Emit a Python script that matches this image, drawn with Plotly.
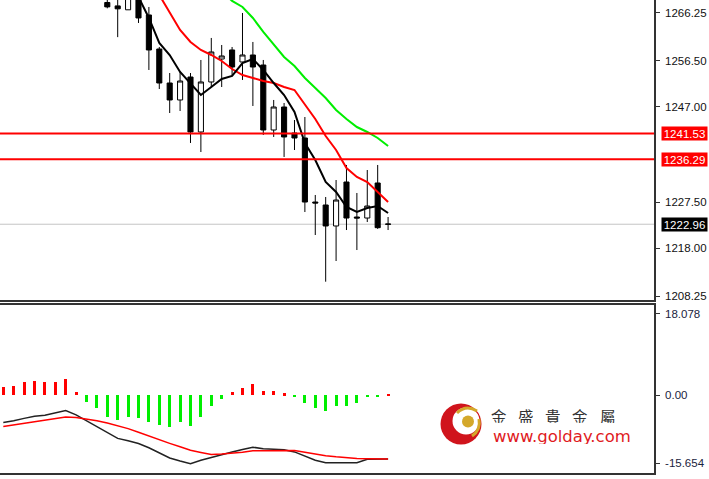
import plotly.graph_objects as go

# ---------------- data ----------------
candle_idx = list(range(10, 38))
opens = [1268.4, 1267.7, 1266.9, 1271.0, 1265.84, 1258.87, 1251.9, 1248.42, 1253.13, 1241.86,
         1252.11, 1256.82, 1258.67, 1256.21, 1257.64, 1255.59, 1242.27, 1246.98, 1241.65, 1240.63,
         1227.51, 1226.9, 1222.6, 1231.61, 1224.44, 1224.23, 1231.41, 1223.0]
highs = [1269.5, 1270.0, 1270.0, 1272.0, 1267.48, 1259.28, 1253.95, 1254.16, 1253.95, 1256.62,
         1261.13, 1259.69, 1259.28, 1266.25, 1260.31, 1256.62, 1248.42, 1247.8, 1244.32, 1244.93,
         1228.95, 1228.54, 1232.02, 1235.1, 1229.36, 1234.07, 1235.1, 1224.44]
lows = [1267.2, 1261.3, 1266.9, 1264.2, 1254.57, 1250.67, 1245.75, 1246.16, 1239.61, 1237.76,
        1251.08, 1251.08, 1253.54, 1252.52, 1247.19, 1241.25, 1240.84, 1236.74, 1238.17, 1225.46,
        1220.75, 1211.18, 1215.42, 1221.77, 1217.67, 1223.41, 1222.0, 1221.77]
closes = [1267.5, 1267.1, 1269.3, 1265.23, 1258.67, 1251.9, 1248.42, 1252.31, 1241.86, 1252.11,
          1258.26, 1257.44, 1255.18, 1257.64, 1255.18, 1242.27, 1246.98, 1240.84, 1240.63, 1227.51,
          1227.31, 1222.6, 1227.92, 1224.23, 1224.23, 1226.69, 1222.25, 1222.96]

ma_fast_idx = list(range(13, 38))
ma_fast = [1269.53, 1265.23, 1260.1, 1257.64, 1254.16, 1251.9, 1249.44, 1251.08, 1252.72, 1253.34,
           1256.0, 1256.82, 1254.57, 1251.9, 1249.44, 1245.96, 1239.61, 1236.12, 1231.61, 1229.56,
           1226.49, 1225.46, 1226.28, 1226.69, 1225.26]
ma_mid_idx = list(range(15, 38))
ma_mid = [1269.94, 1266.45, 1262.77, 1260.31, 1258.67, 1257.64, 1256.41, 1254.77, 1253.54, 1252.93,
          1252.31, 1251.9, 1251.08, 1250.46, 1247.39, 1244.52, 1241.04, 1238.17, 1234.48, 1232.64,
          1231.61, 1229.56, 1227.51]
ma_slow_idx = list(range(21, 38))
ma_slow = [1270.8, 1268.71, 1267.48, 1265.23, 1262.36, 1259.69, 1257.23, 1255.38, 1252.93, 1250.88,
           1248.83, 1246.37, 1244.52, 1242.88, 1241.86, 1240.63, 1238.99]

macd_idx = list(range(0, 38))
macd_hist = [1.66, 1.8, 2.6, 2.85, 2.6, 2.6, 3.2, 0.53, -1.33, -2.66, -4.33, -5.0, -4.33, -4.66,
             -5.32, -5.99, -6.32, -5.32, -6.19, -4.33, -2.13, -0.87, 0.67, 1.46, 2.13, 0.8, 0.8,
             0.33, -0.2, -1.66, -2.53, -3.13, -2.2, -2.2, -1.66, -0.2, -0.2, 0.3]
macd_main = [-5.5, -5.17, -4.69, -4.25, -4.07, -3.55, -3.13, -3.99, -5.19, -6.39, -7.56, -8.70,
             -9.16, -9.72, -10.58, -11.6, -12.63, -13.25, -13.81, -13.11, -12.51, -11.96, -11.44,
             -10.94, -10.48, -10.76, -10.92, -11.0, -11.42, -12.24, -13.09, -13.59, -13.59, -13.59,
             -13.59, -12.91, -12.85, -12.85]
macd_signal = [-6.33, -6.03, -5.75, -5.45, -5.15, -4.77, -4.41, -4.49, -4.77, -5.15, -5.63, -6.19,
               -6.75, -7.47, -8.24, -9.02, -9.7, -10.4, -11.08, -11.52, -11.92, -11.82, -11.72,
               -11.48, -11.2, -11.16, -11.12, -11.08, -11.12, -11.5, -11.88, -12.18, -12.4, -12.6,
               -12.73, -12.77, -12.81, -12.85]

price_ticks = [1266.25, 1256.50, 1247.00, 1227.50, 1218.00, 1208.25]
price_tick_text = ["1266.25", "1256.50", "1247.00", "1227.50", "1218.00", "1208.25"]
level_lines = [1241.53, 1236.29]
level_text = ["1241.53", "1236.29"]
last_price = 1222.96
last_price_text = "1222.96"
macd_tick_vals = [16.3, 0.0, -13.7]
macd_tick_text = ["18.078", "0.00", "-15.654"]
macd_min, macd_max = -15.654, 18.078
brand_chars = ["金", "盛", "貴", "金", "屬"]
brand_url = "www.golday.com"

# ---------------- geometry ----------------
W, H = 709, 479
ML, MR, MT, MB = 0, 55, 0, 6
PW, PH = W - ML - MR, H - MT - MB   # 654 x 473
X_RANGE = [-0.317, 62.57]
Y_RANGE = [1207.43, 1268.91]


def px(x):
    return x / PW


def py(y):
    return (PH - y) / PH


FONT = "Liberation Sans, Arial, sans-serif"
TICK_SIZE = 11.5

fig = go.Figure()

fig.add_trace(go.Candlestick(
    x=candle_idx, open=opens, high=highs, low=lows, close=closes,
    increasing=dict(line=dict(color="black", width=1), fillcolor="white"),
    decreasing=dict(line=dict(color="black", width=1), fillcolor="black"),
    whiskerwidth=0, showlegend=False, hoverinfo="skip",
    xaxis="x", yaxis="y"))

fig.add_trace(go.Scatter(x=ma_slow_idx, y=ma_slow, mode="lines",
                         line=dict(color="#00ee00", width=2), showlegend=False,
                         xaxis="x", yaxis="y"))
fig.add_trace(go.Scatter(x=ma_mid_idx, y=ma_mid, mode="lines",
                         line=dict(color="#ff0000", width=2), showlegend=False,
                         xaxis="x", yaxis="y"))
fig.add_trace(go.Scatter(x=ma_fast_idx, y=ma_fast, mode="lines",
                         line=dict(color="#000000", width=2), showlegend=False,
                         xaxis="x", yaxis="y"))

bar_colors = ["#ff0000" if v >= 0 else "#00ee00" for v in macd_hist]
fig.add_trace(go.Bar(x=macd_idx, y=macd_hist, width=0.3,
                     marker=dict(color=bar_colors, line=dict(width=0)),
                     showlegend=False, xaxis="x2", yaxis="y2"))
fig.add_trace(go.Scatter(x=macd_idx, y=macd_main, mode="lines",
                         line=dict(color="#222222", width=1.5), showlegend=False,
                         xaxis="x2", yaxis="y2"))
fig.add_trace(go.Scatter(x=macd_idx, y=macd_signal, mode="lines",
                         line=dict(color="#ff0000", width=1.5), showlegend=False,
                         xaxis="x2", yaxis="y2"))

shapes = []
shapes.append(dict(type="line", xref="paper", yref="y", x0=0, x1=1, y0=last_price, y1=last_price,
                   line=dict(color="#c4c4c4", width=1), layer="below"))
for lv in level_lines:
    shapes.append(dict(type="line", xref="paper", yref="y", x0=0, x1=1, y0=lv, y1=lv,
                       line=dict(color="#ff0000", width=2)))

# logo
def circ(cx, cy, r, color):
    return dict(type="circle", xref="paper", yref="paper",
                x0=px(cx - r), x1=px(cx + r), y0=py(cy + r), y1=py(cy - r),
                fillcolor=color, line=dict(width=0), layer="above")

shapes.append(circ(461, 424, 20.5, "#d0141c"))
shapes.append(circ(466, 421, 13.5, "white"))
shapes.append(circ(468, 421.5, 6, "#d4a82a"))
shapes.append(dict(type="path", xref="paper", yref="paper",
                   path=f"M {px(457)},{py(413)} Q {px(466)},{py(404)} {px(477)},{py(411)}",
                   line=dict(color="#d4a82a", width=3)))
shapes.append(dict(type="path", xref="paper", yref="paper",
                   path=f"M {px(479)},{py(419)} Q {px(481)},{py(430)} {px(472)},{py(436)}",
                   line=dict(color="#d4a82a", width=3)))

annotations = []
for lv, t in zip(level_lines, level_text):
    annotations.append(dict(xref="paper", yref="y", x=px(661), y=lv, xanchor="left",
                            yanchor="middle", text=t, showarrow=False, width=45, height=13,
                            bgcolor="#ff0000", borderpad=0,
                            font=dict(family=FONT, size=TICK_SIZE, color="white")))
annotations.append(dict(xref="paper", yref="y", x=px(661), y=last_price, xanchor="left",
                        yanchor="middle", text=last_price_text, showarrow=False, width=45,
                        height=13, bgcolor="#000000", borderpad=0,
                        font=dict(family=FONT, size=TICK_SIZE, color="white")))

for k, ch in enumerate(brand_chars):
    annotations.append(dict(xref="paper", yref="paper", x=px(498.5 + 27.3 * k), y=py(415.5),
                            xanchor="center", yanchor="middle", text=ch, showarrow=False,
                            height=14, borderpad=0,
                            font=dict(family="Noto Sans CJK TC", size=15.5, color="#333333")))
annotations.append(dict(xref="paper", yref="paper", x=px(562), y=py(436.5), xanchor="center",
                        yanchor="middle", text=brand_url, showarrow=False, height=15,
                        borderpad=0,
                        font=dict(family="DejaVu Sans, Verdana, sans-serif", size=16.5,
                                  color="#e01a22")))

fig.update_layout(
    width=W, height=H,
    margin=dict(l=ML, r=MR, t=MT, b=MB),
    paper_bgcolor="white", plot_bgcolor="white",
    showlegend=False, bargap=0,
    font=dict(family=FONT, size=TICK_SIZE, color="#111111"),
    xaxis=dict(domain=[0, 1], anchor="y", range=X_RANGE, showgrid=False, zeroline=False,
               showticklabels=False, ticks="", showline=True, linecolor="#333333",
               linewidth=1.5, rangeslider=dict(visible=False), fixedrange=True),
    yaxis=dict(domain=[py(300), 1], anchor="x", side="right", range=Y_RANGE, showgrid=False,
               zeroline=False, showline=True, linecolor="#333333", linewidth=1.5,
               ticks="outside", ticklen=4, tickcolor="#333333",
               tickvals=price_ticks, ticktext=price_tick_text, ticklabelstandoff=3,
               tickfont=dict(family=FONT, size=TICK_SIZE, color="#111111")),
    xaxis2=dict(domain=[0, 1], anchor="y2", range=X_RANGE, showgrid=False, zeroline=False,
                showticklabels=False, ticks="", showline=True, mirror=True,
                linecolor="#333333", linewidth=1.5),
    yaxis2=dict(domain=[0, py(305)], anchor="x2", side="right", range=[macd_min, macd_max],
                showgrid=False, zeroline=False, showline=True, linecolor="#333333",
                linewidth=1.5, ticks="outside", ticklen=4, tickcolor="#333333",
                tickvals=macd_tick_vals, ticktext=macd_tick_text, ticklabelstandoff=3,
                tickfont=dict(family=FONT, size=TICK_SIZE, color="#1a2440")),
    shapes=shapes,
    annotations=annotations,
)

fig.write_html("out.html", config={"displayModeBar": False},
               post_script="document.body.style.margin='0px';document.body.style.overflow='hidden';")
